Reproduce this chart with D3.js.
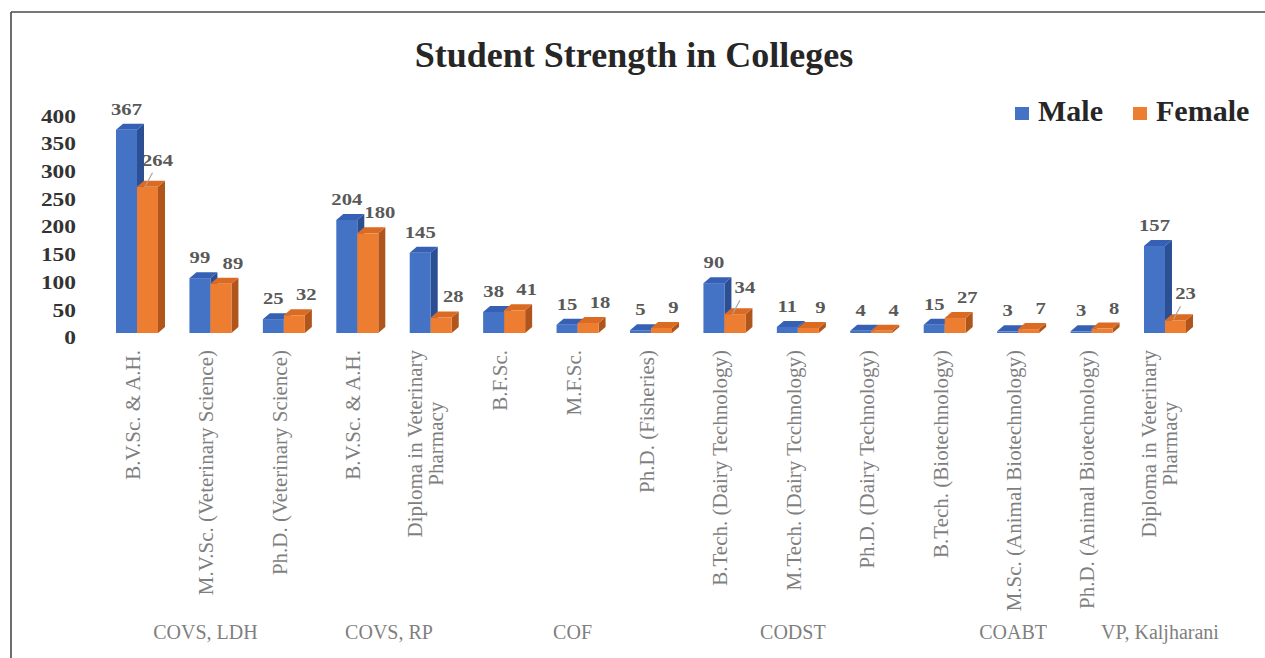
<!DOCTYPE html>
<html><head><meta charset="utf-8">
<script src="https://cdn.jsdelivr.net/npm/d3@7/dist/d3.min.js"></script>
<style>
html,body{margin:0;padding:0;background:#fff;}
svg{display:block;}
text{font-family:"Liberation Serif","Times New Roman",serif;}
</style></head>
<body>
<svg id="chart" width="1265" height="658"></svg>
<script>
const categories = [
  ["B.V.Sc. & A.H."],
  ["M.V.Sc. (Veterinary Science)"],
  ["Ph.D. (Veterinary Science)"],
  ["B.V.Sc. & A.H."],
  ["Diploma in Veterinary", "Pharmacy"],
  ["B.F.Sc."],
  ["M.F.Sc."],
  ["Ph.D. (Fisheries)"],
  ["B.Tech. (Dairy Technology)"],
  ["M.Tech. (Dairy Tcchnology)"],
  ["Ph.D. (Dairy Technology)"],
  ["B.Tech. (Biotechnology)"],
  ["M.Sc. (Animal Biotechnology)"],
  ["Ph.D. (Animal Biotechnology)"],
  ["Diploma in Veterinary", "Pharmacy"]
];
const male   = [367, 99, 25, 204, 145, 38, 15, 5, 90, 11, 4, 15, 3, 3, 157];
const female = [264, 89, 32, 180, 28, 41, 18, 9, 34, 9, 4, 27, 7, 8, 23];
const groupNames = ["COVS, LDH", "COVS, RP", "COF", "CODST", "COABT", "VP, Kaljharani"];
const groupFirst = [0, 3, 5, 8, 11, 14];
const groupLast  = [2, 4, 7, 10, 13, 14];
const yTicks = [0, 50, 100, 150, 200, 250, 300, 350, 400];
const seriesNames = ["Male", "Female"];
const leaderFemale = [0, 8, 14];

const svg = d3.select("#chart");
const W = 1265, H = 658;

// frame (top and left edges visible)
svg.append("line").attr("x1", 11).attr("y1", 12).attr("x2", W).attr("y2", 12)
  .attr("stroke", "#4a4a4a").attr("stroke-width", 1.6);
svg.append("line").attr("x1", 11).attr("y1", 12).attr("x2", 11).attr("y2", H)
  .attr("stroke", "#4a4a4a").attr("stroke-width", 1.6);

// title
svg.append("text").attr("x", 634).attr("y", 67).attr("text-anchor", "middle")
  .attr("font-size", 36).attr("font-weight", "bold").attr("fill", "#262626")
  .text("Student Strength in Colleges");

const x = d3.scaleBand().domain(d3.range(categories.length)).range([100.3, 1201.7]).padding(0);
const y = d3.scaleLinear().domain([0, 400]).range([333, 111.4]);
const barW = 21, dx = 7, dy = 6;
const colors = [
  {front: "#4472C4", top: "#3560B4", side: "#2C4F94"},
  {front: "#ED7D31", top: "#DB6A22", side: "#B0551B"}
];

// y axis
const yAxis = d3.axisLeft(y).tickValues(yTicks).tickSize(0).tickPadding(0);
const gy = svg.append("g").attr("transform", "translate(76,5)").call(yAxis);
gy.select(".domain").remove();
gy.selectAll("text")
  .attr("font-family", "Liberation Serif, Times New Roman, serif")
  .attr("font-size", 18).attr("font-weight", "bold").attr("fill", "#333")
  .attr("x", 0)
  .attr("transform", "scale(1.3,1)");

// bars
const center = i => x(i) + x.bandwidth() / 2;
const barsG = svg.append("g");
const series = [male, female];
categories.forEach((c, i) => {
  series.forEach((vals, s) => {
    const v = vals[i];
    const x0 = center(i) - barW + s * barW, x1 = x0 + barW;
    const yt = y(v), yb = y(0);
    const col = colors[s];
    const g = barsG.append("g");
    g.append("polygon")
      .attr("points", [[x1, yt], [x1 + dx, yt - dy], [x1 + dx, yb - dy], [x1, yb]].map(p => p.join(",")).join(" "))
      .attr("fill", col.side);
    g.append("polygon")
      .attr("points", [[x0, yt], [x0 + dx, yt - dy], [x1 + dx, yt - dy], [x1, yt]].map(p => p.join(",")).join(" "))
      .attr("fill", col.top);
    g.append("rect").attr("x", x0).attr("y", yt).attr("width", barW).attr("height", yb - yt)
      .attr("fill", col.front);
  });
});

// data labels
const labG = svg.append("g");
categories.forEach((c, i) => {
  series.forEach((vals, s) => {
    const v = vals[i];
    const x0 = center(i) - barW + s * barW;
    const fc = x0 + barW / 2;
    const yt = y(v);
    let lx = fc, ly = yt - 15;
    if (s === 1) {
      if (leaderFemale.includes(i)) {
        lx = fc + 10; ly = yt - 21;
        labG.append("line").attr("x1", fc - 2).attr("y1", yt - 1).attr("x2", fc + 5).attr("y2", yt - 14)
          .attr("stroke", "#a6a6a6").attr("stroke-width", 1.2);
      } else {
        lx = fc + 12;
      }
    }
    labG.append("text")
      .attr("transform", `translate(${lx},${ly}) scale(1.18,1)`)
      .attr("text-anchor", "middle").attr("font-size", 17.5).attr("font-weight", "bold")
      .attr("fill", "#595959").text(v);
  });
});

// category labels (rotated)
const fs = 21;
const catG = svg.append("g");
categories.forEach((lines, i) => {
  const c = center(i);
  if (lines.length === 1) {
    catG.append("text")
      .attr("transform", `translate(${c - 4 + 0.33 * fs},350) rotate(-90)`)
      .attr("text-anchor", "end").attr("font-size", fs).attr("fill", "#7f7f7f")
      .text(lines[0]);
  } else {
    const t1 = catG.append("text")
      .attr("transform", `translate(${c - 16 + 0.33 * fs},350) rotate(-90)`)
      .attr("text-anchor", "end").attr("font-size", fs).attr("fill", "#7f7f7f")
      .text(lines[0]);
    const len = t1.node().getComputedTextLength();
    catG.append("text")
      .attr("transform", `translate(${c + 5 + 0.33 * fs},350) rotate(-90)`)
      .attr("x", -len / 2)
      .attr("text-anchor", "middle").attr("font-size", fs).attr("fill", "#7f7f7f")
      .text(lines[1]);
  }
});

// group labels
groupNames.forEach((g, k) => {
  const gx = (center(groupFirst[k]) + center(groupLast[k])) / 2 - 5;
  svg.append("text").attr("x", gx).attr("y", 639).attr("text-anchor", "middle")
    .attr("font-size", 20).attr("fill", "#7f7f7f").text(g);
});

// legend
const legX = [1015, 1133];
seriesNames.forEach((n, s) => {
  svg.append("rect").attr("x", legX[s]).attr("y", 107).attr("width", 14).attr("height", 13)
    .attr("fill", colors[s].front);
  svg.append("text").attr("x", legX[s] + 23).attr("y", 121)
    .attr("font-size", 30).attr("font-weight", "bold").attr("fill", "#262626").text(n);
});
</script>
</body></html>
